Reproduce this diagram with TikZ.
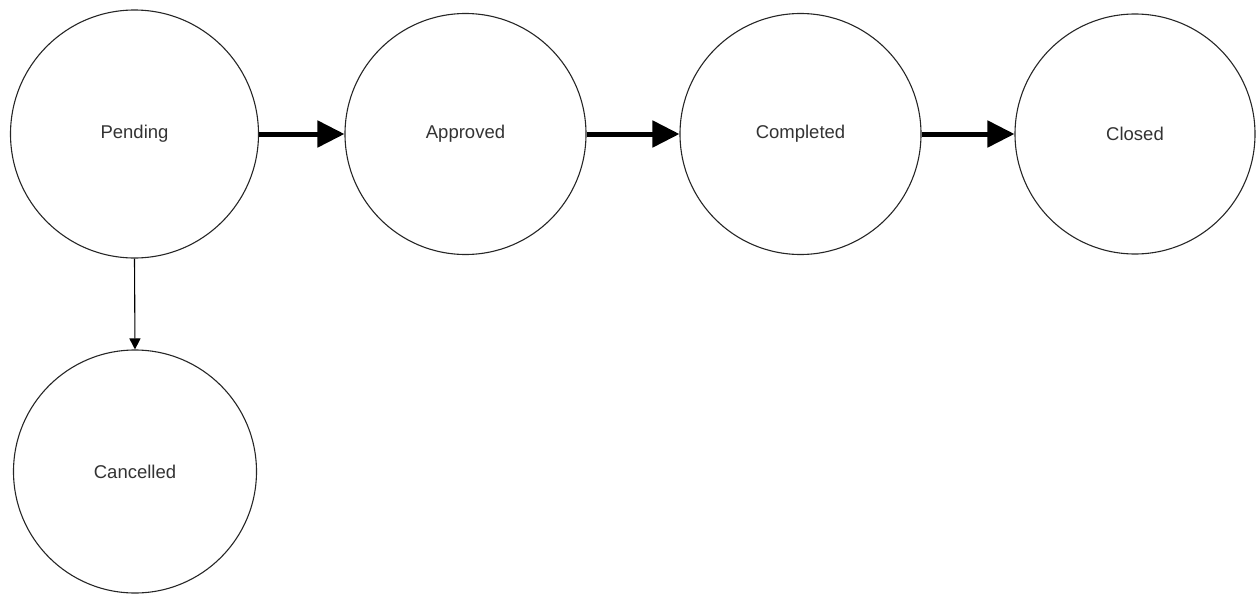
\documentclass[tikz,border=0pt]{standalone}
\usepackage{fontspec}
\setmainfont{Liberation Sans}
\usetikzlibrary{arrows.meta}
\begin{document}
\begin{tikzpicture}[x=1pt,y=-1pt,
  state/.style={circle,draw=black!85,line width=1.1pt,inner sep=0pt,text=black!80,font=\fontsize{18.5}{22}\selectfont},
  bigarrow/.style={line width=5pt,-{Triangle[length=27pt,width=26pt]},shorten <=0pt},
  smallarrow/.style={line width=1.1pt,-{Triangle[length=11pt,width=11pt]}}]
\useasboundingbox (0,0) rectangle (1257,594);
\node[state,minimum size=248pt] (pending) at (134.5,134) {Pending};
\node[state,minimum size=241pt] (approved) at (465.5,134) {Approved};
\node[state,minimum size=241pt] (completed) at (800.5,134) {Completed};
\node[state,minimum size=240pt] (closed) at (1135,134) {Closed};
\node[state,minimum size=243pt] (cancelled) at (135,471.5) {Cancelled};
\draw[bigarrow] (pending.east) -- (approved.west);
\draw[bigarrow] (approved.east) -- (completed.west);
\draw[bigarrow] (completed.east) -- (closed.west);
\draw[smallarrow] (pending.south) -- (cancelled.north);
\end{tikzpicture}
\end{document}
